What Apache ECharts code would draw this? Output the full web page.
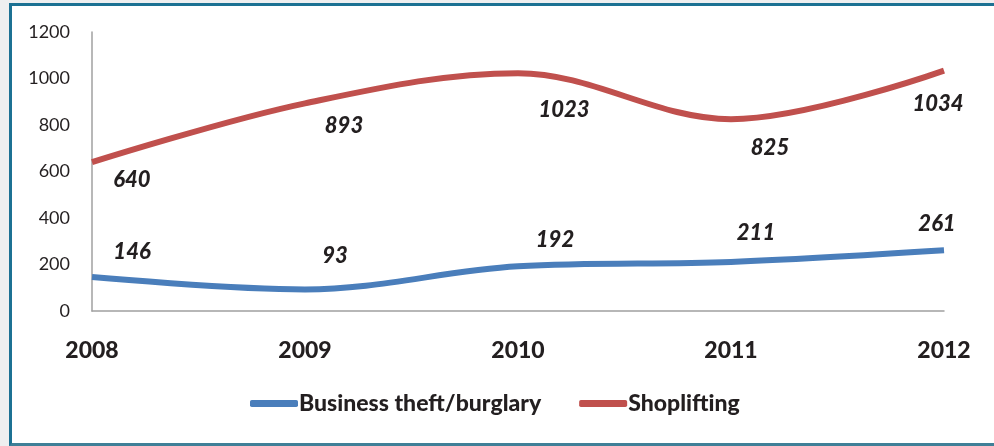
<!DOCTYPE html>
<html>
<head>
<meta charset="utf-8">
<script src="https://cdn.jsdelivr.net/npm/echarts@6/dist/echarts.min.js"></script>
<style>
  html, body { margin: 0; padding: 0; width: 994px; height: 446px; overflow: hidden; background: #eeeff0; }
  #frame {
    position: absolute; left: 9px; top: 3px; width: 990px; height: 437px;
    background: #ffffff;
    border-left: 3px solid #1c7193; border-top: 3px solid #1c7193; border-bottom: 3px solid #3f7f97;
  }
  #chart { position: absolute; left: 0; top: 0; width: 994px; height: 446px; }
</style>
</head>
<body>
<div id="frame"></div>
<div id="chart"></div>
<script>
// Years on the horizontal axis
const years = ['2008', '2009', '2010', '2011', '2012'];
// Recorded offences per year
const businessTheft = [146, 93, 192, 211, 261];
const shoplifting = [640, 893, 1023, 825, 1034];
// Value-axis ticks
const yTicks = [0, 200, 400, 600, 800, 1000, 1200];

// Label nudges (px) so the value labels sit beside the curves
const theftLabelShift = [[40, -25], [30, -33], [37, -26], [25, -29], [-7, -26]];
const shopLabelShift = [[40, 18], [39, 23], [46, 37], [39, 29], [-6, 33]];

const labelFont = {
  fontFamily: 'Lato', fontWeight: 900, fontStyle: 'italic',
  fontSize: 22, color: '#231f20'
};

function withLabels(values, shifts) {
  return values.map((v, i) => ({
    value: v,
    label: Object.assign({ show: true, position: 'inside', offset: shifts[i] }, labelFont)
  }));
}

const chart = echarts.init(document.getElementById('chart'), null, { renderer: 'canvas' });
chart.setOption({
  backgroundColor: 'transparent',
  animation: false,
  grid: { left: 92, right: 50, top: 32, bottom: 135, containLabel: false },
  legend: {
    bottom: 26, left: 245,
    itemWidth: 48, itemHeight: 7, itemGap: 38,
    icon: 'roundRect',
    textStyle: { fontFamily: 'Lato', fontWeight: 900, fontSize: 23, color: '#231f20', padding: [0, 0, 0, -4] },
    data: ['Business theft/burglary', 'Shoplifting']
  },
  xAxis: {
    type: 'category', data: years, boundaryGap: false,
    axisLine: { lineStyle: { color: '#a0a0a0', width: 1.5 } },
    axisTick: { show: false },
    axisLabel: { fontFamily: 'Lato', fontWeight: 900, fontSize: 23, color: '#231f20', margin: 28 }
  },
  yAxis: {
    type: 'value', min: yTicks[0], max: yTicks[yTicks.length - 1], interval: yTicks[1] - yTicks[0],
    axisLine: { show: true, lineStyle: { color: '#a0a0a0', width: 1.5 } },
    axisTick: { show: false },
    splitLine: { show: false },
    axisLabel: { fontFamily: 'Lato', fontSize: 18, color: '#231f20', margin: 22, formatter: v => String(v) }
  },
  series: [
    {
      name: 'Business theft/burglary', type: 'line', smooth: 0.35,
      data: withLabels(businessTheft, theftLabelShift),
      showSymbol: true, symbol: 'circle', symbolSize: 0.01,
      lineStyle: { color: '#4a7ebb', width: 6 },
      itemStyle: { color: '#4a7ebb' }
    },
    {
      name: 'Shoplifting', type: 'line', smooth: 0.35,
      data: withLabels(shoplifting, shopLabelShift),
      showSymbol: true, symbol: 'circle', symbolSize: 0.01,
      lineStyle: { color: '#c0504d', width: 6 },
      itemStyle: { color: '#c0504d' }
    }
  ]
});
</script>
</body>
</html>
